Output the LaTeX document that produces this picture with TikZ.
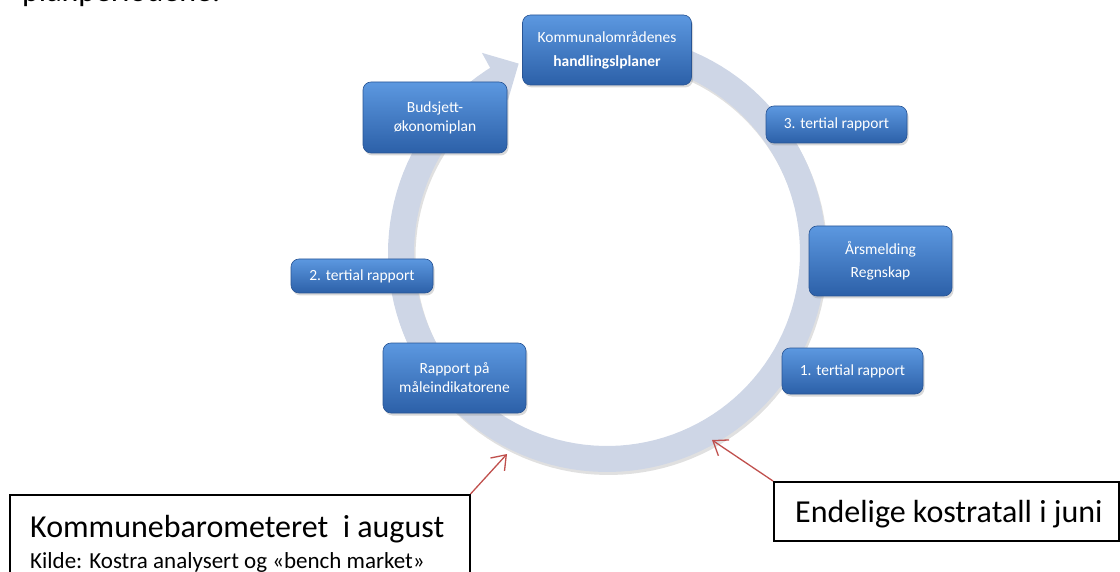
\documentclass[tikz,border=0pt]{standalone}
\usepackage{fontspec}
\setmainfont{Carlito}
\usetikzlibrary{arrows.meta,shadows}
\definecolor{ringgray}{RGB}{206,214,230}
\definecolor{boxtop}{RGB}{92,152,224}
\definecolor{boxbottom}{RGB}{44,96,168}
\definecolor{boxline}{RGB}{40,84,148}
\definecolor{pointred}{RGB}{192,80,77}

\begin{document}
\begin{tikzpicture}[x=1pt, y=-1pt]
\tikzset{planbox/.style = {draw=boxline, line width=0.6pt, rounded corners=8pt, top color=boxtop, bottom color=boxbottom, text=white, inner sep=0pt, align=center, font=\fontsize{15.5}{19}\selectfont, drop shadow={opacity=0.3, shadow xshift=1.5pt, shadow yshift=-2.5pt}}}
    \tikzset{notebox/.style = {draw=black, line width=1.5pt, fill=white, inner sep=0pt, anchor=north west}}
    \tikzset{notetext/.style = {anchor=base west, inner sep=0pt}}
    \tikzset{pointer/.style = {draw=pointred, line width=1.3pt, -{Straight Barb[length=13pt, width=19pt]}}}
\useasboundingbox (0,0) rectangle (1120,572);
\clip (0,0) rectangle (1120,572);

% last line of the text above, cut by the page
\node[notetext, font=\fontsize{32}{38}\selectfont] (prev) at (22,2) {planperiodene.};

% the cycle arrow, with a soft shadow
\coordinate (c) at (607,253);
\draw[black, opacity=0.12, line width=26pt] plot[domain=-80:239, samples=120] ({608.5+206*cos(\x)}, {256+206*sin(\x)});
\draw[ringgray, line width=26pt] plot[domain=-80:239, samples=120] ({607+206*cos(\x)}, {253+206*sin(\x)});
\fill[ringgray] ({607+236*cos(238)}, {253+236*sin(238)}) -- ({607+209*cos(245)}, {253+209*sin(245)}) -- ({607+182*cos(237)}, {253+182*sin(237)}) -- cycle;

% the steps of the year
\node[planbox, minimum width=169pt, minimum height=70pt, font=\fontsize{15.5}{24}\selectfont] (plans) at (607,50) {Kommunalområdenes\\\textbf{handlingslplaner}};
\node[planbox, minimum width=144pt, minimum height=71pt] (budget) at (435,117.5) {Budsjett-\\økonomiplan};
\node[planbox, minimum width=141pt, minimum height=37pt] (third) at (836.5,124.5) {3. tertial rapport};
\node[planbox, minimum width=143pt, minimum height=70pt, font=\fontsize{15.5}{23}\selectfont] (annual) at (880.5,261) {Årsmelding\\Regnskap};
\node[planbox, minimum width=141pt, minimum height=46pt] (first) at (852.5,371) {1. tertial rapport};
\node[planbox, minimum width=142pt, minimum height=34pt] (second) at (362,276) {2. tertial rapport};
\node[planbox, minimum width=143pt, minimum height=70pt] (report) at (454.5,378) {Rapport på\\måleindikatorene};

% notes with pointers to the ring
\node[notebox, minimum width=460pt, minimum height=100pt] (barobox) at (9,494) {};
\node[notetext, font=\fontsize{32}{38}\selectfont] (barotitle) at (30,537) {Kommunebarometeret\ \ i august};
\node[notetext, font=\fontsize{23}{28}\selectfont] (barosource) at (30,568) {Kilde: Kostra analysert og «bench market»};
\node[notebox, minimum width=345pt, minimum height=59pt] (kostrabox) at (773,481) {};
\node[notetext, font=\fontsize{32}{38}\selectfont] (kostratext) at (795,522) {Endelige kostratall i juni};
\coordinate (augtip) at (507,454);
\coordinate (juntip) at (712,440);
\draw[pointer] (barobox.north east) -- (augtip);
\draw[pointer] (kostrabox.north west) -- (juntip);
\end{tikzpicture}
\end{document}
